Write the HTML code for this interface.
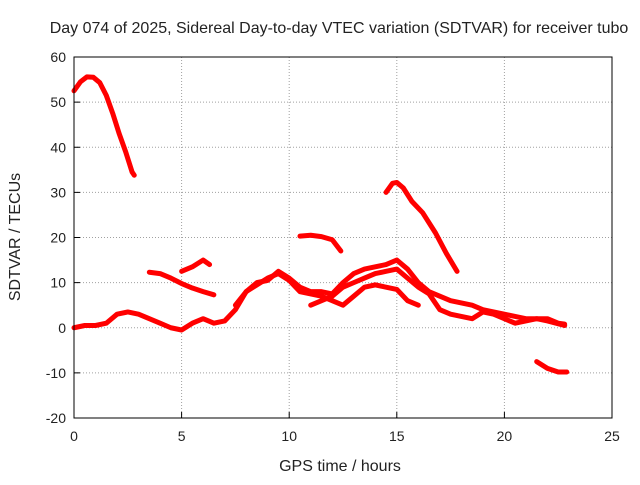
<!DOCTYPE html>
<html><head><meta charset="utf-8"><style>
body{margin:0;background:#fff;}
svg text{font-family:"Liberation Sans",sans-serif;font-size:14px;fill:#222;}
svg text.big{font-size:16px;}
</style></head><body>
<svg id="chart" width="640" height="480" xmlns="http://www.w3.org/2000/svg">
<rect width="640" height="480" fill="#fff"/>
<text class="big" x="339" y="33" text-anchor="middle">Day 074 of 2025, Sidereal Day-to-day VTEC variation (SDTVAR) for receiver tubo</text>
<text class="big" x="340" y="471" text-anchor="middle">GPS time / hours</text>
<text class="big" x="0" y="0" text-anchor="middle" transform="translate(20,237) rotate(-90)">SDTVAR / TECUs</text>
<g id="grid"></g><g id="series"></g>
<rect x="74" y="57" width="538" height="361" fill="none" stroke="#000" stroke-width="1"/>
</svg>
<script>
const xTicks=[0,5,10,15,20,25];
const yTicks=[-20,-10,0,10,20,30,40,50,60];
const seg1=[[0,52.5],[0.3,54.5],[0.6,55.6],[0.9,55.5],[1.2,54.3],[1.5,51.5],[1.8,47.5],[2.1,43],[2.4,39],[2.7,34.5],[2.8,33.8]];
const seg2=[[3.5,12.3],[4,12],[4.5,11],[5,9.8],[5.5,8.8],[6,8],[6.5,7.3]];
const seg3=[[5,12.5],[5.5,13.5],[6,15],[6.3,14]];
const seg4=[[10.5,20.3],[11,20.5],[11.5,20.2],[12,19.5],[12.4,17]];
const seg5=[[14.5,30],[14.8,32],[15,32.2],[15.3,31],[15.7,28],[16.2,25.5],[16.8,21],[17.3,16.5],[17.8,12.5]];
const seg6=[[21.5,-7.5],[22,-9],[22.5,-9.8],[22.9,-9.8]];
const seg7=[[0,0],[0.5,0.5],[1,0.5],[1.5,1],[2,3],[2.5,3.5],[3,3],[3.5,2],[4,1],[4.5,0],[5,-0.5],[5.5,1],[6,2],[6.5,1],[7,1.5],[7.5,4],[8,8],[8.5,9.5],[9,11],[9.5,12],[10,10.5],[10.5,8],[11,7.5],[11.5,7],[12,6],[12.5,5],[13,7],[13.5,9],[14,9.5],[14.5,9],[15,8.5],[15.5,6],[16,5]];
const seg8=[[7.5,5],[8,8],[8.5,10],[9,10.5],[9.5,12.5],[10,11],[10.5,9],[11,8],[11.5,8],[12,7.5],[12.5,10],[13,12],[13.5,13],[14,13.5],[14.5,14],[15,15],[15.5,13],[16,10],[16.5,8],[17,7],[17.5,6],[18,5.5],[18.5,5],[19,4],[19.5,3.5],[20,3],[20.5,2.5],[21,2],[21.5,2],[22,2],[22.5,1],[22.8,0.8]];
const seg9=[[11,5],[11.5,6],[12,7],[12.5,9],[13,10],[13.5,11],[14,12],[14.5,12.5],[15,13],[15.5,11],[16,9],[16.5,7.5],[17,4],[17.5,3],[18,2.5],[18.5,2],[19,3.5],[19.5,3],[20,2],[20.5,1],[21,1.5],[21.5,2],[22,1.5],[22.8,0.5]];
const segments=[seg1,seg2,seg3,seg4,seg5,seg6,seg7,seg8,seg9];
const X0=74,X1=612,Y0=418,Y1=57,xmin=0,xmax=25,ymin=-20,ymax=60;
const sx=v=>X0+(v-xmin)/(xmax-xmin)*(X1-X0);
const sy=v=>Y0-(v-ymin)/(ymax-ymin)*(Y0-Y1);
const NS="http://www.w3.org/2000/svg";
const grid=document.getElementById('grid');
function mk(t,a){const e=document.createElementNS(NS,t);for(const k in a)e.setAttribute(k,a[k]);return e;}
xTicks.forEach(t=>{
 const x=sx(t);
 if(t>xmin&&t<xmax){const l=mk('line',{x1:x,x2:x,y1:Y1,y2:Y0,stroke:'#a0a0a0','stroke-dasharray':'1,2'});
 
 grid.appendChild(l);}
 const tk=mk('line',{x1:x,x2:x,y1:Y0,y2:Y0-6,stroke:'#000'});
 
 grid.appendChild(tk);
 const tx=mk('text',{x:x,y:Y0+23,'text-anchor':'middle'});tx.textContent=t;
 
 grid.appendChild(tx);
});
yTicks.forEach(t=>{
 const y=sy(t);
 if(t>ymin&&t<ymax){const l=mk('line',{x1:X0,x2:X1,y1:y,y2:y,stroke:'#a0a0a0','stroke-dasharray':'1,2'});
 
 grid.appendChild(l);}
 const tk=mk('line',{x1:X0,x2:X0+6,y1:y,y2:y,stroke:'#000'});
 
 grid.appendChild(tk);
 const tx=mk('text',{x:X0-8,y:y+5,'text-anchor':'end'});tx.textContent=t;
 
 grid.appendChild(tx);
});
const sg=document.getElementById('series');
segments.forEach((s,i)=>{
 const p=mk('polyline',{points:s.map(d=>sx(d[0])+','+sy(d[1])).join(' '),fill:'none',stroke:'#ff0000','stroke-width':5,'stroke-linejoin':'round','stroke-linecap':'round'});
 
 
 sg.appendChild(p);
});
</script>
</body></html>
